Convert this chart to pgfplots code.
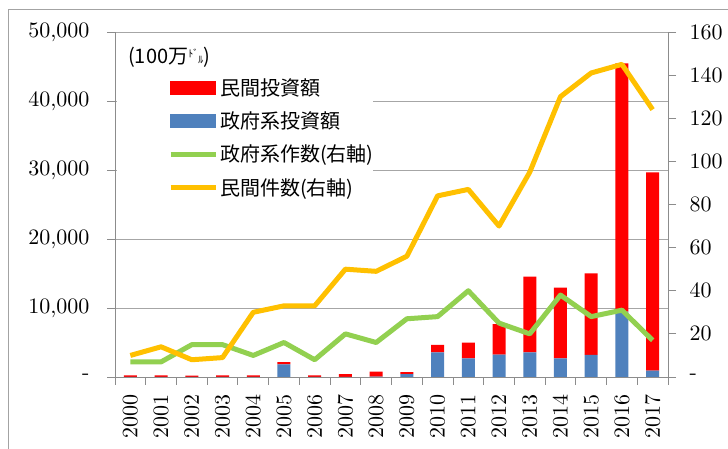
\documentclass[border=0pt]{standalone}
\usepackage{fontspec}
\usepackage{pgfplots}
\pgfplotsset{compat=1.18}
\newfontfamily\jp{Noto Sans CJK JP}
\newfontfamily\numfont{lmroman10-regular.otf}
\definecolor{cred}{HTML}{FF0000}
\definecolor{cblue}{HTML}{4F81BD}
\definecolor{cgreen}{HTML}{92D050}
\definecolor{cyellow}{HTML}{FFC000}
\definecolor{cgrid}{HTML}{A6A6A6}
\definecolor{caxis}{HTML}{8C8C8C}
\begin{document}
\begin{tikzpicture}[font=\fontsize{20}{24}\selectfont]
\useasboundingbox (0,0) rectangle (728pt,449pt);
\draw[caxis!80, line width=0.8pt] (8pt,-10pt) rectangle (740pt,440pt);
\begin{axis}[
  at={(115pt,72pt)}, anchor=south west, scale only axis,
  width=553pt, height=345pt,
  xmin=-0.5, xmax=17.5, ymin=0, ymax=50000,
  axis x line*=bottom, axis y line*=left,
  axis line style={caxis, line width=0.8pt},
  ybar stacked, bar width=13pt,
  xtick={0,...,17},
  xticklabels={2000,2001,2002,2003,2004,2005,2006,2007,2008,2009,2010,2011,2012,2013,2014,2015,2016,2017},
  tick label style={font=\numfont\fontsize{22}{26}\selectfont},
  xticklabel style={yshift=-6pt, rotate=90, anchor=east},
  yticklabel style={xshift=-14pt},
  minor xtick={-0.5,0.5,...,17.5},
  tick align=outside, major tick length=8pt, minor tick length=8pt,
  tick style={caxis, line width=0.8pt},
  major x tick style={draw=none},
  ytick={0,10000,20000,30000,40000,50000},
  yticklabels={-,{10,000},{20,000},{30,000},{40,000},{50,000}},
  scaled y ticks=false,
  ymajorgrids, grid style={cgrid, line width=0.8pt},
]
\addplot[fill=cblue, draw=none] coordinates {
(0,30) (1,30) (2,30) (3,30) (4,30) (5,1840) (6,30) (7,30) (8,50) (9,430)
(10,3580) (11,2700) (12,3230) (13,3580) (14,2710) (15,3190) (16,9460) (17,920)};
\addplot[fill=cred, draw=none] coordinates {
(0,220) (1,200) (2,180) (3,200) (4,200) (5,330) (6,200) (7,400) (8,720) (9,290)
(10,1060) (11,2270) (12,4450) (13,10950) (14,10230) (15,11830) (16,35990) (17,28740)};
\end{axis}
\begin{axis}[
  at={(115pt,72pt)}, anchor=south west, scale only axis,
  width=553pt, height=345pt,
  xmin=-0.5, xmax=17.5, ymin=0, ymax=160,
  axis y line*=right, axis x line=none,
  axis line style={caxis, line width=0.8pt},
  ytick={0,20,40,60,80,100,120,140,160},
  yticklabels={-,20,40,60,80,100,120,140,160},
  tick label style={font=\numfont\fontsize{22}{26}\selectfont},
  yticklabel style={anchor=west, xshift=10pt},
  tick align=outside, major tick length=8pt,
  tick style={caxis, line width=0.8pt},
  legend style={at={(0.0958,0.872)}, anchor=north west, draw=none, fill=none,
    font=\jp\fontsize{20}{24}\selectfont, row sep=11pt, inner sep=0pt},
  legend cell align=left,
]
\fill[white] (rel axis cs:0.003,0.485) rectangle (rel axis cs:0.466,0.99);
\addlegendimage{legend image code/.code={\fill[cred] (0pt,-6.5pt) rectangle (45pt,6.5pt);}}
\addlegendentry{民間投資額}
\addlegendimage{legend image code/.code={\fill[cblue] (0pt,-6.5pt) rectangle (45pt,6.5pt);}}
\addlegendentry{政府系投資額}
\addplot[cgreen, line width=5pt, line join=round,
  legend image code/.code={\draw[cgreen, line width=5pt] (0pt,0pt) -- (45pt,0pt);}] coordinates {
(0,7) (1,7) (2,15) (3,15) (4,10) (5,16) (6,8) (7,20) (8,16) (9,27)
(10,28) (11,40) (12,25) (13,20) (14,38) (15,28) (16,31) (17,17)};
\addlegendentry{政府系作数(右軸)}
\addplot[cyellow, line width=5pt, line join=round,
  legend image code/.code={\draw[cyellow, line width=5pt] (0pt,0pt) -- (45pt,0pt);}] coordinates {
(0,10) (1,14) (2,8) (3,9) (4,30) (5,33) (6,33) (7,50) (8,49) (9,56)
(10,84) (11,87) (12,70) (13,95) (14,130) (15,141) (16,145) (17,124)};
\addlegendentry{民間件数(右軸)}
\end{axis}
\node[anchor=west, font=\jp\fontsize{20}{24}\selectfont, inner sep=0pt] at (128pt,392pt)
  {(100万\raisebox{6pt}{\fontsize{10}{11}\selectfont ﾄﾞ}\raisebox{0pt}{\fontsize{10}{11}\selectfont ﾙ})};
\end{tikzpicture}
\end{document}
